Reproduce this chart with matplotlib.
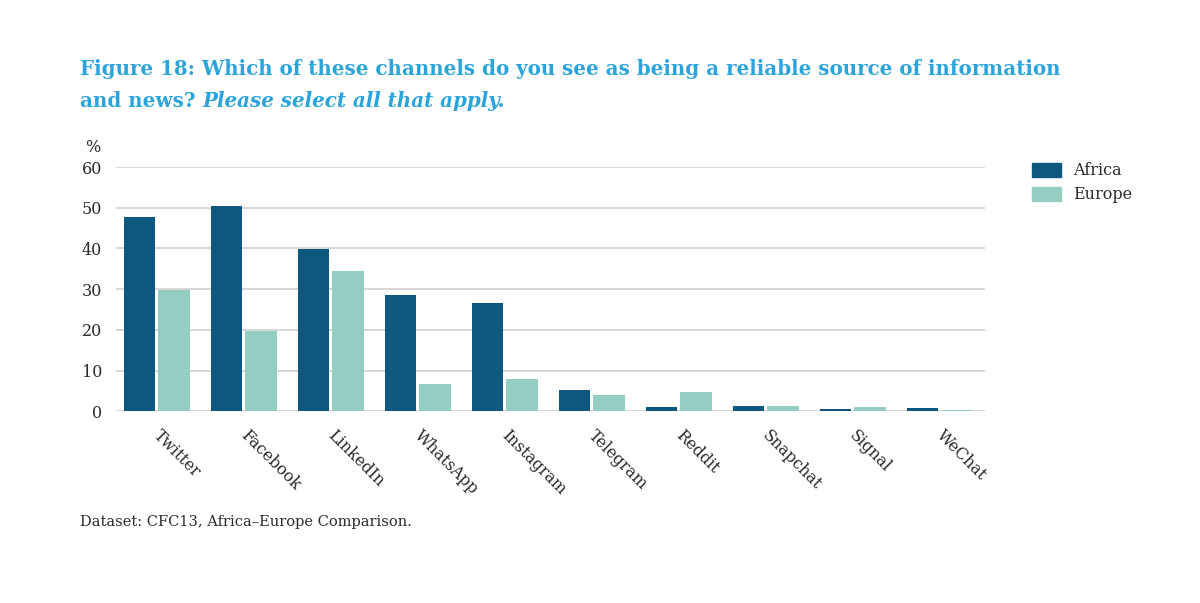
import matplotlib
matplotlib.use("Agg")
import matplotlib.pyplot as plt
import numpy as np
from matplotlib.patches import Patch

channels = ["Twitter", "Facebook", "LinkedIn", "WhatsApp", "Instagram",
            "Telegram", "Reddit", "Snapchat", "Signal", "WeChat"]
africa = [47.8, 50.5, 39.9, 28.6, 26.6, 5.3, 1.0, 1.2, 0.5, 0.9]
europe = [29.7, 19.7, 34.4, 6.6, 7.8, 4.0, 4.7, 1.2, 1.0, 0.3]
yticks = [0, 10, 20, 30, 40, 50, 60]

c_africa = "#0e577e"
c_europe = "#96cdc3"
c_title = "#2ba3db"
c_text = "#2b2b2b"

plt.rcParams['font.family'] = ['DejaVu Serif']

fig = plt.figure(figsize=(12, 6.03), dpi=100)
ax = fig.add_axes([0.0967, 0.318, 0.7243, 0.405])

x = np.arange(len(channels))
w = 0.36
ax.bar(x - 0.2, africa, w, color=c_africa, zorder=3)
ax.bar(x + 0.2, europe, w, color=c_europe, zorder=3)

ax.set_xlim(-0.466, 9.523)
ax.set_ylim(0, 60)
ax.set_yticks(yticks)
ax.set_yticklabels([str(v) for v in yticks], fontsize=11.5, color=c_text)
ax.yaxis.grid(True, color="#d4d4d4", linewidth=1.3, zorder=0)
ax.tick_params(axis='y', length=0, pad=10)
for s in ax.spines.values():
    s.set_visible(False)

ax.set_xticks(x + 0.06)
ax.set_xticklabels(channels, rotation=-45, ha='left', rotation_mode='anchor',
                   fontsize=11.5, color=c_text)
ax.tick_params(axis='x', length=0, pad=11)

ax.text(-0.018, 1.045, "%", transform=ax.transAxes, ha='right', va='bottom',
        fontsize=11.5, color=c_text)

handles = [Patch(color=c_africa, label="Africa"), Patch(color=c_europe, label="Europe")]
fig.legend(handles=handles, loc='upper left', bbox_to_anchor=(0.848, 0.755),
           frameon=False, fontsize=11.5, handlelength=1.8, handleheight=0.95,
           labelspacing=0.45, handletextpad=0.8, labelcolor=c_text)

fig.text(0.067, 0.875, "Figure 18: Which of these channels do you see as being a reliable source of information",
         fontsize=14.3, fontweight='bold', color=c_title, va='baseline')
fig.text(0.067, 0.822, "and news? ", fontsize=14.3, fontweight='bold', color=c_title, va='baseline')
t = fig.texts[-1]
fig.canvas.draw()
bb = t.get_window_extent()
fig.text(bb.x1 / fig.bbox.width, 0.822, "Please select all that apply.",
         fontsize=14.3, fontweight='bold', style='italic', color=c_title, va='baseline')

fig.text(0.067, 0.128, "Dataset: CFC13, Africa\u2013Europe Comparison.",
         fontsize=10.5, color=c_text, va='baseline')

fig.savefig("out.png", dpi=100, facecolor="white")
